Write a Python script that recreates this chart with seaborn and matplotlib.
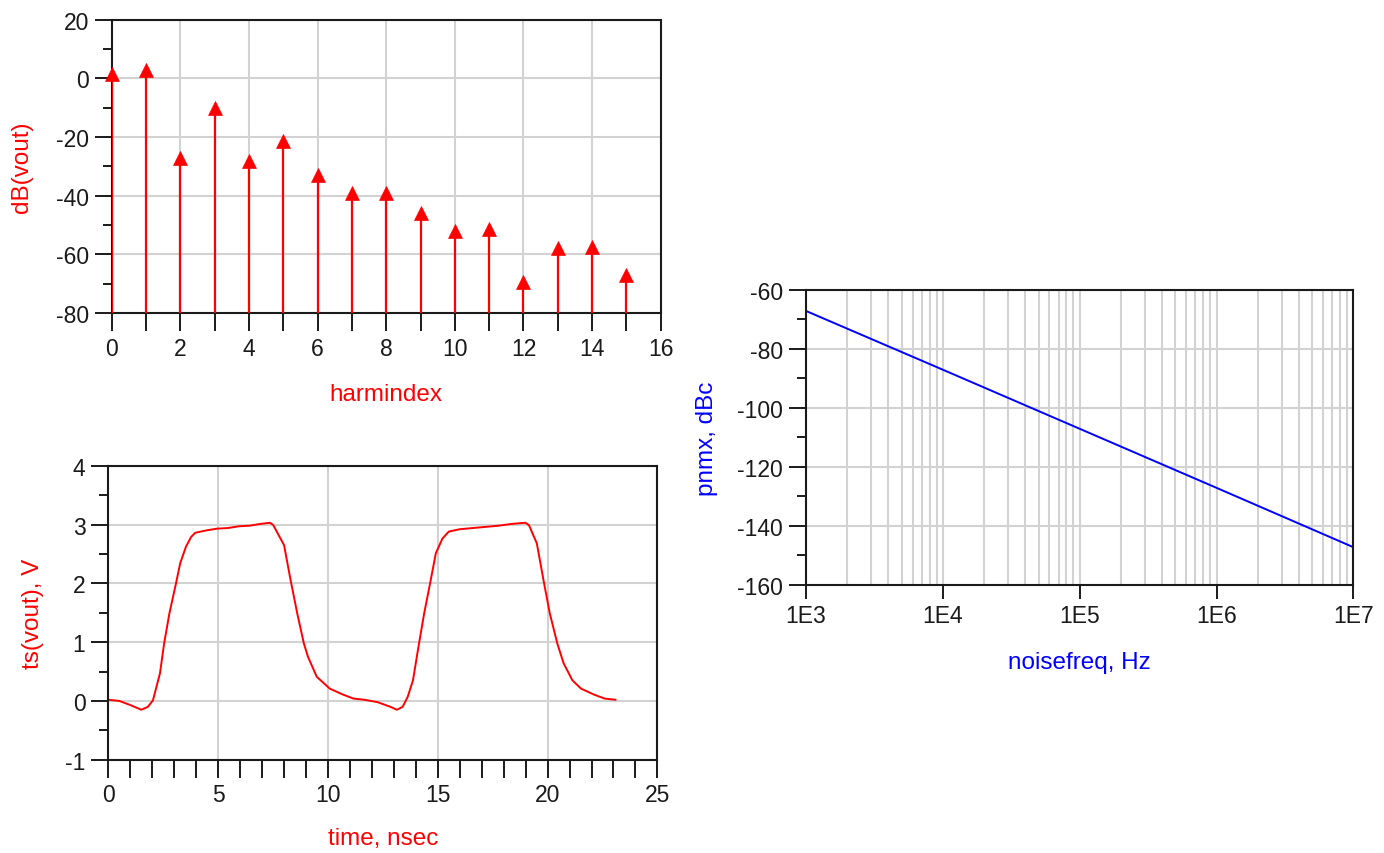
import numpy as np
import pandas as pd
import matplotlib
matplotlib.use("Agg")
import matplotlib.pyplot as plt
from matplotlib.ticker import MultipleLocator, FixedLocator, FuncFormatter, LogLocator
import seaborn as sns

# ---- harmonic spectrum of vout ----
harmindex = list(range(16))
db_vout = [1.4, 2.8, -27.0, -10.0, -28.0, -21.4, -33.0, -39.0,
           -39.0, -46.0, -52.0, -51.4, -69.5, -58.0, -57.6, -67.0]

# ---- transient waveform of vout ----
time_ns = [0.0, 0.5, 1.0, 1.5, 1.8, 2.03, 2.35, 2.54, 2.78, 3.08, 3.27, 3.53, 3.77,
           3.96, 4.46, 4.95, 5.44, 5.94, 6.43, 6.92, 7.36, 7.51, 7.71, 8.0, 8.3,
           8.6, 8.9, 9.09, 9.49, 10.08, 10.67, 11.16, 11.66, 12.25, 12.84, 13.14,
           13.4, 13.63, 13.87, 14.12, 14.38, 14.65, 14.91, 15.21, 15.5, 16.0, 16.59,
           17.18, 17.77, 18.36, 18.99, 19.15, 19.51, 19.84, 20.1, 20.44, 20.73,
           21.13, 21.52, 22.1, 22.6, 23.1]
ts_vout = [0.02, 0.0, -0.07, -0.15, -0.1, 0.01, 0.47, 0.98, 1.49, 2.0, 2.34, 2.62,
           2.79, 2.86, 2.9, 2.93, 2.94, 2.97, 2.98, 3.01, 3.03, 2.99, 2.85, 2.65,
           2.05, 1.49, 0.98, 0.75, 0.41, 0.21, 0.11, 0.04, 0.02, -0.02, -0.1, -0.15,
           -0.1, 0.07, 0.35, 0.92, 1.49, 2.0, 2.51, 2.76, 2.88, 2.92, 2.94, 2.96,
           2.98, 3.01, 3.03, 2.99, 2.68, 2.0, 1.49, 0.98, 0.64, 0.35, 0.21, 0.11,
           0.04, 0.02]

# ---- phase noise ----
noisefreq = [1e3, 1e4, 1e5, 1e6, 1e7]
pnmx = [-67.2, -87.1, -107.1, -127.1, -147.2]

sns.set_style("white")
plt.rcParams["font.family"] = ["Liberation Sans", "DejaVu Sans"]
plt.rcParams["axes.unicode_minus"] = False

RED = "#ff0000"
BLUE = "#0000ff"
GRID = "#d2d2d2"
INK = "#1a1a1a"

fig = plt.figure(figsize=(13.84, 8.54), dpi=100)
ax1 = fig.add_axes([0.0807, 0.6323, 0.3967, 0.3434])
ax2 = fig.add_axes([0.0783, 0.1092, 0.3967, 0.3443])
ax3 = fig.add_axes([0.5824, 0.3138, 0.3955, 0.3458])


def style_axes(ax, xlen_major, xlen_minor):
    for s in ax.spines.values():
        s.set_color(INK)
        s.set_linewidth(1.5)
    ax.set_axisbelow(True)
    ax.grid(True, which="major", color=GRID, linewidth=1.5)
    ax.tick_params(axis="y", which="major", direction="out", length=12.5, width=1.4,
                   color=INK, labelcolor=INK, labelsize=16.5, pad=4, left=True)
    ax.tick_params(axis="y", which="minor", direction="out", length=6.5, width=1.4,
                   color=INK, left=True)
    ax.tick_params(axis="x", which="major", direction="out", length=xlen_major, width=1.4,
                   color=INK, labelcolor=INK, labelsize=16.5, pad=4, bottom=True)
    ax.tick_params(axis="x", which="minor", direction="out", length=xlen_minor, width=1.4,
                   color=INK, bottom=True)


# Harmonic spectrum: stems from the bottom of the axis up to each triangle
df_h = pd.DataFrame({"harmindex": harmindex, "dB": db_vout})
ax1.vlines(df_h["harmindex"], -80, df_h["dB"], color=RED, linewidth=1.6, zorder=3)
sns.scatterplot(data=df_h, x="harmindex", y="dB", marker="^", s=100, color=RED,
                edgecolor=RED, linewidth=0.5, ax=ax1, zorder=4, clip_on=False)
ax1.set_xlim(0, 16)
ax1.set_ylim(-80, 20)
ax1.xaxis.set_major_locator(MultipleLocator(2))
ax1.xaxis.set_minor_locator(MultipleLocator(1))
ax1.yaxis.set_major_locator(MultipleLocator(20))
ax1.yaxis.set_minor_locator(MultipleLocator(10))
style_axes(ax1, 13, 13)
ax1.set_xlabel("harmindex", color=RED, fontsize=17.5, labelpad=17)
ax1.set_ylabel("dB(vout)", color=RED, fontsize=17.5, labelpad=16)

# Transient waveform
df_t = pd.DataFrame({"time": time_ns, "v": ts_vout})
sns.lineplot(data=df_t, x="time", y="v", color=RED, linewidth=1.4, sort=False,
             estimator=None, ax=ax2)
ax2.set_xlim(0, 25)
ax2.set_ylim(-1, 4)
ax2.xaxis.set_major_locator(MultipleLocator(5))
ax2.xaxis.set_minor_locator(MultipleLocator(1))
ax2.yaxis.set_major_locator(MultipleLocator(1))
ax2.yaxis.set_minor_locator(MultipleLocator(0.5))
style_axes(ax2, 13, 13)
ax2.set_xlabel("time, nsec", color=RED, fontsize=17.5, labelpad=15)
ax2.set_ylabel("ts(vout), V", color=RED, fontsize=17.5, labelpad=15)

# Phase noise versus offset frequency
df_p = pd.DataFrame({"f": noisefreq, "pn": pnmx})
sns.lineplot(data=df_p, x="f", y="pn", color=BLUE, linewidth=1.4, sort=False,
             estimator=None, ax=ax3)
ax3.set_xscale("log")
ax3.set_xlim(1e3, 1e7)
ax3.set_ylim(-160, -60)
ax3.xaxis.set_major_locator(FixedLocator([1e3, 1e4, 1e5, 1e6, 1e7]))
ax3.xaxis.set_major_formatter(FuncFormatter(lambda v, p: "1E%d" % round(np.log10(v))))
ax3.xaxis.set_minor_locator(LogLocator(base=10, subs=np.arange(2, 10)))
ax3.xaxis.set_minor_formatter(FuncFormatter(lambda v, p: ""))
ax3.yaxis.set_major_locator(MultipleLocator(20))
ax3.yaxis.set_minor_locator(MultipleLocator(10))
style_axes(ax3, 10, 0)
ax3.grid(True, which="minor", axis="x", color=GRID, linewidth=1.5)
ax3.set_xlabel("noisefreq, Hz", color=BLUE, fontsize=17.5, labelpad=17)
ax3.set_ylabel("pnmx, dBc", color=BLUE, fontsize=17.5, labelpad=14)

fig.savefig("out.png", dpi=100, facecolor="white")
